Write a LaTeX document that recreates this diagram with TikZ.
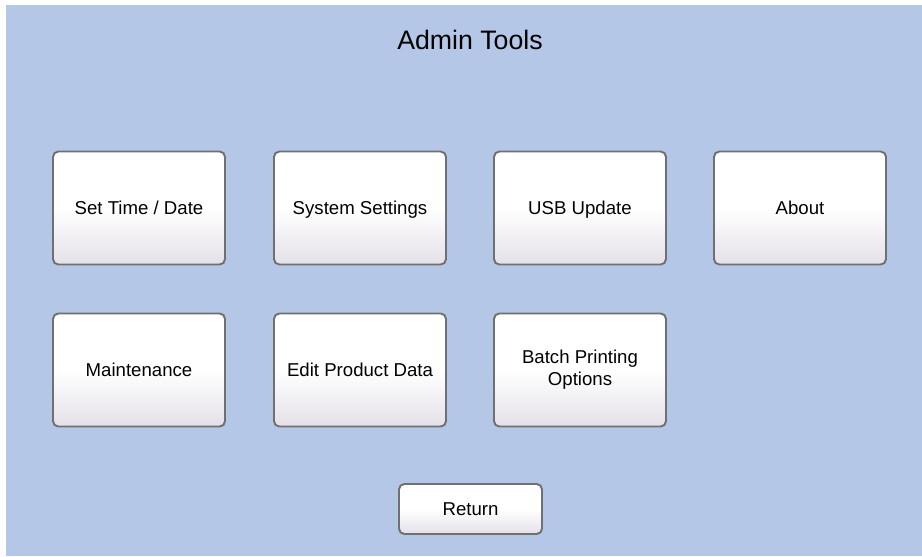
\documentclass[tikz,border=0pt]{standalone}
\usepackage{fontspec}
\setmainfont{Liberation Sans}
\usetikzlibrary{positioning}
\definecolor{panelblue}{RGB}{180,199,230}
\definecolor{btnedge}{RGB}{112,112,112}
\definecolor{btnbottom}{RGB}{228,224,232}
\newcommand{\btnstrut}{\rule[-2.6pt]{0pt}{12.4pt}}
\tikzset{
    btn/.style={draw=btnedge, line width=1.1pt, rounded corners=3pt,
        top color=white, bottom color=btnbottom, middle color=white,
        minimum width=3.44cm, minimum height=2.26cm, align=center,
        font=\fontsize{10.6}{12.5}\selectfont, inner sep=0pt,
        execute at begin node=\btnstrut, execute at end node=\btnstrut},
    smallbtn/.style={btn, minimum width=2.86cm, minimum height=1.0cm}
}

\begin{document}
\begin{tikzpicture}[x=0.02cm, y=-0.02cm]

    \useasboundingbox (0,0) rectangle (922,556);
    \fill[panelblue] (6,5) rectangle (922,556);

    \node[font=\fontsize{15.2}{18}\selectfont] (title) at (470,40) {Admin Tools};

    \node[btn] (settime) at (139,208) {Set Time / Date};
    \node[btn] (system) at (360,208) {System Settings};
    \node[btn] (usb) at (580,208) {USB Update};
    \node[btn] (about) at (800,208) {About};

    \node[btn] (maint) at (139,370) {Maintenance};
    \node[btn] (edit) at (360,370) {Edit Product Data};
    \node[btn] (batch) at (580,370) {Batch Printing\\Options};

    \node[smallbtn] (return) at (470.5,509) {Return};
\end{tikzpicture}
\end{document}
